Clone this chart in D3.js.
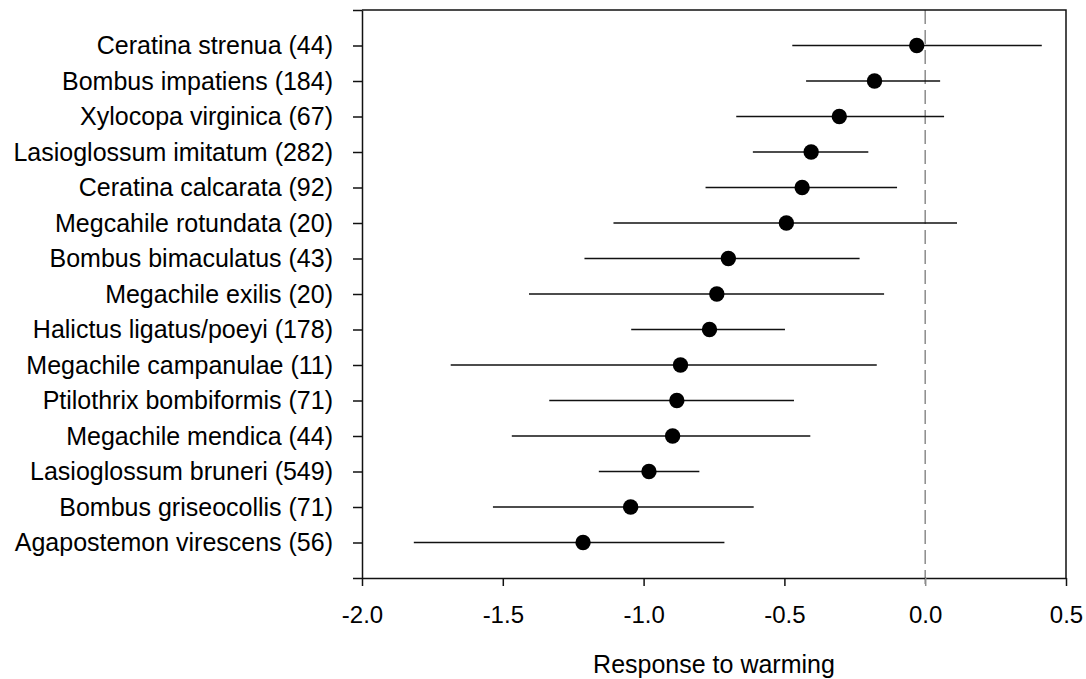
<!DOCTYPE html>
<html>
<head>
<meta charset="utf-8">
<script src="https://cdn.jsdelivr.net/npm/d3@7"></script>
<style>
  body { margin: 0; background: #fff; }
  svg { display: block; font-family: Arial, 'Liberation Sans', sans-serif; }
</style>
</head>
<body>
<div id="chart"></div>
<script>
// species listed top to bottom, sample size in brackets
const species = [
  'Ceratina strenua', 'Bombus impatiens', 'Xylocopa virginica', 'Lasioglossum imitatum',
  'Ceratina calcarata', 'Megcahile rotundata', 'Bombus bimaculatus', 'Megachile exilis',
  'Halictus ligatus/poeyi', 'Megachile campanulae', 'Ptilothrix bombiformis', 'Megachile mendica',
  'Lasioglossum bruneri', 'Bombus griseocollis', 'Agapostemon virescens'
];
const sampleSizes = [44, 184, 67, 282, 92, 20, 43, 20, 178, 11, 71, 44, 549, 71, 56];
const estimates = [-0.03, -0.18, -0.305, -0.405, -0.437, -0.493, -0.699, -0.74, -0.766, -0.869, -0.882, -0.897, -0.981, -1.046, -1.215];
const lower = [-0.472, -0.423, -0.671, -0.612, -0.78, -1.107, -1.21, -1.407, -1.044, -1.685, -1.335, -1.468, -1.159, -1.535, -1.816];
const upper = [0.414, 0.053, 0.067, -0.202, -0.1, 0.113, -0.233, -0.146, -0.498, -0.172, -0.466, -0.408, -0.802, -0.609, -0.713];
const xTicks = [-2.0, -1.5, -1.0, -0.5, 0.0, 0.5];

const data = species.map((s, i) => ({
  label: `${s} (${sampleSizes[i]})`,
  pos: i + 1,
  est: estimates[i],
  lo: lower[i],
  hi: upper[i]
}));

const width = 1086;
const height = 679;
const margin = { top: 10, right: 20, bottom: 101, left: 362 };
const boundedWidth = width - margin.left - margin.right;
const boundedHeight = height - margin.top - margin.bottom;

const svg = d3.select('#chart').append('svg')
  .attr('width', width)
  .attr('height', height);

const g = svg.append('g')
  .attr('transform', `translate(${margin.left}, ${margin.top})`);

const xScale = d3.scaleLinear()
  .domain([-2.0, 0.5])
  .range([0, boundedWidth]);

// categories sit at 1..15, frame ends at 0 and 16
const yScale = d3.scaleLinear()
  .domain([0, species.length + 1])
  .range([0, boundedHeight]);

// zero reference line
g.append('line')
  .attr('x1', xScale(0))
  .attr('x2', xScale(0))
  .attr('y1', 0)
  .attr('y2', boundedHeight + 8)
  .attr('stroke', '#8c8c8c')
  .attr('stroke-width', 1.5)
  .attr('stroke-dasharray', '14,6');

// top and right frame
g.append('path')
  .attr('d', `M0,0H${boundedWidth}V${boundedHeight}`)
  .attr('fill', 'none')
  .attr('stroke', '#111')
  .attr('stroke-width', 1.5);

// x axis (plain hyphen for negatives, like the original)
const fmt = d3.format('.1f');
const xAxis = g.append('g')
  .attr('class', 'x-axis')
  .attr('transform', `translate(0, ${boundedHeight})`)
  .call(d3.axisBottom(xScale)
    .tickValues(xTicks)
    .tickSize(8)
    .tickSizeOuter(0)
    .tickFormat(d => fmt(d).replace('\u2212', '-')));

xAxis.select('.domain').attr('stroke', '#111').attr('stroke-width', 1.5);
xAxis.selectAll('.tick line')
  .attr('stroke', d => d === 0 ? '#8c8c8c' : '#111')
  .attr('stroke-width', 1.5);
xAxis.selectAll('.tick text')
  .attr('y', 45)
  .attr('dy', 0)
  .attr('fill', '#000')
  .style('font-size', '24px');

xAxis.append('text')
  .attr('text-anchor', 'middle')
  .attr('x', boundedWidth / 2)
  .attr('y', 95)
  .attr('fill', '#000')
  .style('font-size', '25px')
  .text('Response to warming');

// y axis
const yAxis = g.append('g')
  .attr('class', 'y-axis')
  .call(d3.axisLeft(yScale)
    .tickValues(d3.range(0, species.length + 2))
    .tickSize(9)
    .tickSizeOuter(0)
    .tickPadding(20)
    .tickFormat(d => (d >= 1 && d <= species.length) ? data[d - 1].label : ''));

yAxis.select('.domain').attr('stroke', '#111').attr('stroke-width', 1.5);
yAxis.selectAll('.tick line').attr('stroke', '#111').attr('stroke-width', 1.5);
yAxis.selectAll('.tick text')
  .attr('fill', '#000')
  .style('font-size', '25px');

// error bars
g.selectAll('.ci')
  .data(data)
  .enter()
  .append('line')
  .attr('class', 'ci')
  .attr('x1', d => xScale(d.lo))
  .attr('x2', d => xScale(d.hi))
  .attr('y1', d => yScale(d.pos))
  .attr('y2', d => yScale(d.pos))
  .attr('stroke', '#111')
  .attr('stroke-width', 1.6);

// point estimates
g.selectAll('.est')
  .data(data)
  .enter()
  .append('circle')
  .attr('class', 'est')
  .attr('cx', d => xScale(d.est))
  .attr('cy', d => yScale(d.pos))
  .attr('r', 7.7)
  .attr('fill', '#000');
</script>
</body>
</html>
